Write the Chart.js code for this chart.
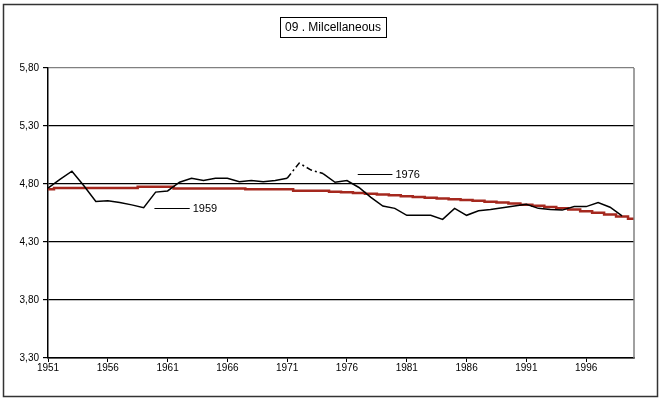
<!DOCTYPE html>
<html>
<head>
<meta charset="utf-8">
<script src="https://cdn.jsdelivr.net/npm/chart.js@4/dist/chart.umd.min.js"></script>
<style>
html,body{margin:0;padding:0;background:#fff;}
#wrap{width:661px;height:399px;position:relative;}
</style>
</head>
<body>
<div id="wrap"><canvas id="c" width="661" height="399"></canvas></div>
<script>
const chartTitle = '09 . Milcellaneous';
const years = ['1951','1952','1953','1954','1955','1956','1957','1958','1959','1960',
  '1961','1962','1963','1964','1965','1966','1967','1968','1969','1970',
  '1971','1972','1973','1974','1975','1976','1977','1978','1979','1980',
  '1981','1982','1983','1984','1985','1986','1987','1988','1989','1990',
  '1991','1992','1993','1994','1995','1996','1997','1998','1999','2000'];
const actual = [4.765, 4.84, 4.91, 4.785, 4.65, 4.655, 4.64, 4.62, 4.595, 4.73,
  4.74, 4.815, 4.85, 4.83, 4.85, 4.85, 4.82, 4.83, 4.82, 4.83,
  4.85, 4.98, 4.92, 4.89, 4.815, 4.83, 4.77, 4.685, 4.61, 4.59,
  4.53, 4.53, 4.53, 4.495, 4.59, 4.53, 4.57, 4.58, 4.595, 4.61,
  4.625, 4.59, 4.58, 4.575, 4.605, 4.605, 4.64, 4.60, 4.525, null];
const trend = [4.755, 4.765, 4.765, 4.765, 4.765, 4.765, 4.765, 4.765, 4.777, 4.777,
  4.777, 4.762, 4.762, 4.762, 4.762, 4.762, 4.762, 4.754, 4.754, 4.754,
  4.754, 4.742, 4.742, 4.742, 4.733, 4.728, 4.722, 4.716, 4.709, 4.703,
  4.695, 4.689, 4.682, 4.676, 4.669, 4.663, 4.656, 4.648, 4.640, 4.632,
  4.622, 4.613, 4.602, 4.592, 4.580, 4.566, 4.552, 4.537, 4.520, 4.500];
const dashedFrom = 20, dashedTo = 23;
const yMin = 3.3, yMax = 5.8, yStep = 0.5;
const noteLabels = ['1959', '1976'];
const noteStart = [8.9, 25.9];
const noteEnd = [11.85, 28.8];
const noteValue = [4.59, 4.887];

const FONT = 'Liberation Sans, Arial, sans-serif';

const decor = {
  id: 'decor',
  afterDatasetsDraw(chart) {
    const ctx = chart.ctx, xs = chart.scales.x, ys = chart.scales.y, a = chart.chartArea;
    ctx.save();
    ctx.strokeStyle = '#808080';
    ctx.lineWidth = 1.5;
    ctx.beginPath();
    ctx.moveTo(a.right, a.top);
    ctx.lineTo(a.right, a.bottom);
    ctx.stroke();
    ctx.strokeStyle = '#000';
    ctx.lineWidth = 1.2;
    ctx.fillStyle = '#000';
    ctx.font = '11px ' + FONT;
    ctx.textBaseline = 'middle';
    ctx.textAlign = 'left';
    for (let i = 0; i < noteLabels.length; i++) {
      const x0 = xs.getPixelForValue(noteStart[i]);
      const x1 = xs.getPixelForValue(noteEnd[i]);
      const y = Math.round(ys.getPixelForValue(noteValue[i])) + 0.5;
      ctx.beginPath();
      ctx.moveTo(x0, y);
      ctx.lineTo(x1, y);
      ctx.stroke();
      ctx.fillText(noteLabels[i], x1 + 3, y);
    }
    ctx.restore();
  },
  afterDraw(chart) {
    const ctx = chart.ctx;
    ctx.save();
    ctx.strokeStyle = '#333';
    ctx.lineWidth = 1.5;
    ctx.strokeRect(3.5, 4.5, 654, 392);
    ctx.font = '12px ' + FONT;
    const w = ctx.measureText(chartTitle).width + 10;
    const cx = 333, cy = 27;
    ctx.fillStyle = '#fff';
    ctx.fillRect(cx - w / 2, cy - 10, w, 20);
    ctx.strokeStyle = '#000';
    ctx.lineWidth = 1;
    ctx.strokeRect(Math.round(cx - w / 2) + 0.5, cy - 10 + 0.5, Math.round(w), 20);
    ctx.fillStyle = '#000';
    ctx.textAlign = 'center';
    ctx.textBaseline = 'middle';
    ctx.fillText(chartTitle, cx, cy + 1);
    ctx.restore();
  }
};

new Chart(document.getElementById('c'), {
  type: 'line',
  data: {
    labels: years,
    datasets: [
      {
        label: 'Actual',
        data: actual,
        borderColor: '#000',
        borderWidth: 1.5,
        pointRadius: 0,
        tension: 0,
        fill: false,
        segment: {
          borderDash: c => (c.p0DataIndex >= dashedFrom && c.p1DataIndex <= dashedTo) ? [6, 3, 2, 3] : undefined
        }
      },
      {
        label: 'Trend',
        data: trend,
        borderColor: '#a5281e',
        borderWidth: 2.5,
        pointRadius: 0,
        stepped: 'middle',
        fill: false
      }
    ]
  },
  options: {
    responsive: false,
    animation: false,
    devicePixelRatio: 1,
    layout: { padding: { left: 0, right: 27, top: 68, bottom: 0 } },
    plugins: { legend: { display: false }, tooltip: { enabled: false }, title: { display: false } },
    scales: {
      y: {
        min: yMin,
        max: yMax,
        afterFit: s => { s.width = 48; },
        ticks: {
          stepSize: yStep,
          color: '#000',
          font: { family: FONT, size: 10 },
          padding: 4,
          callback: v => Number(v).toFixed(2).replace('.', ',')
        },
        grid: {
          color: c => (c.tick && c.tick.value >= yMax - 0.001) ? '#808080' : '#000',
          lineWidth: 1.2,
          tickLength: 5,
          tickColor: '#000'
        },
        border: { color: '#000', width: 1.5 }
      },
      x: {
        afterFit: s => { s.height = 41; },
        ticks: {
          autoSkip: false,
          maxRotation: 0,
          minRotation: 0,
          color: '#000',
          font: { family: FONT, size: 10 },
          padding: 0,
          callback: function (v, i) { return i % 5 === 0 ? years[i] : ''; }
        },
        grid: {
          drawOnChartArea: false,
          tickLength: 4,
          tickColor: c => (c.index % 5 === 0) ? '#000' : 'rgba(0,0,0,0)'
        },
        border: { color: '#000', width: 1.5 }
      }
    }
  },
  plugins: [decor]
});
</script>
</body>
</html>
